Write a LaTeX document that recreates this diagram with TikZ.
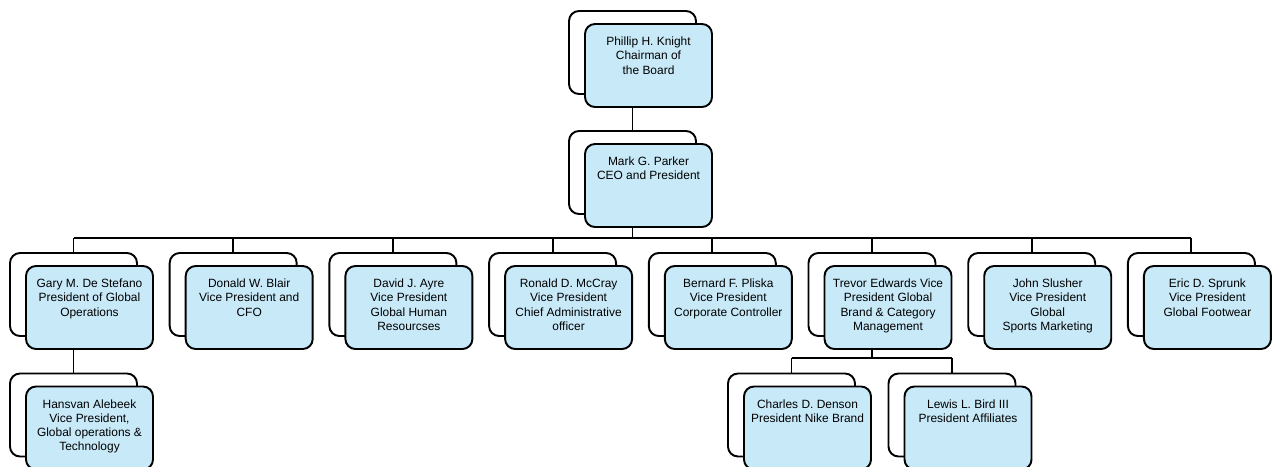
\documentclass[tikz,border=0pt]{standalone}
\usepackage{fontspec}
\setmainfont{Liberation Sans}
\usepackage{xcolor}
\usepackage{tikz}
\usetikzlibrary{positioning}
\definecolor{boxbg}{RGB}{200,233,248}

% back box, front box and its text
\newcommand{\officer}[4]{%
    \node[backbox] (#1B) at ([shift={(-0.32,0.26)}]#2,#3) {};
    \node[frontbox] (#1) at (#2,#3) {};
    \node[persontext] (#1T) at ([yshift=-0.27cm]#1.north) {#4};
}

\begin{document}
\begin{tikzpicture}[
    backbox/.style={rectangle, draw, fill=white, rounded corners=0.2cm, line width=1.1pt, minimum width=2.54cm, minimum height=1.66cm},
    frontbox/.style={backbox, fill=boxbg},
    persontext/.style={anchor=north, inner sep=0pt, align=center, font=\fontsize{6.8}{8.1}\selectfont},
    link/.style={line width=1.1pt}
]
    \clip (0,0) rectangle (25.44,-9.32);

    % Top
    \officer{knight}{12.97}{-1.31}{Phillip H. Knight\\Chairman of\\the Board}
    \officer{parker}{12.97}{-3.71}{Mark G. Parker\\CEO and President}

    % Direct reports
    \officer{gary}{1.79}{-6.15}{Gary M. De Stefano\\President of Global\\Operations}
    \officer{blair}{4.984}{-6.15}{Donald W. Blair\\Vice President and\\CFO}
    \officer{ayre}{8.178}{-6.15}{David J. Ayre\\Vice President\\Global Human\\Resourcses}
    \officer{mccray}{11.372}{-6.15}{Ronald D. McCray\\Vice President\\Chief Administrative\\officer}
    \officer{pliska}{14.566}{-6.15}{Bernard F. Pliska\\Vice President\\Corporate Controller}
    \officer{edwards}{17.76}{-6.15}{Trevor Edwards Vice\\President Global\\Brand \& Category\\Management}
    \officer{slusher}{20.954}{-6.15}{John Slusher\\Vice President\\Global\\Sports Marketing}
    \officer{sprunk}{24.148}{-6.15}{Eric D. Sprunk\\Vice President\\Global Footwear}

    % Third level
    \officer{alebeek}{1.79}{-8.56}{Hansvan Alebeek\\Vice President,\\Global operations \&\\Technology}
    \officer{denson}{16.15}{-8.56}{Charles D. Denson\\President Nike Brand}
    \officer{bird}{19.36}{-8.56}{Lewis L. Bird III\\President Affiliates}

    % Lines
    \coordinate (bus) at (0,-4.76);
    \coordinate (subbus) at (0,-7.16);
    \draw[link] (parkerB.north) -- (parkerB.north |- knight.south);
    \draw[link] (parkerB.north |- parker.south) -- (parkerB.north |- bus);
    \draw[link] (garyB.north |- bus) -- (sprunkB.north |- bus);
    \draw[link] (garyB.north |- bus) -- (garyB.north);
    \draw[link] (blairB.north |- bus) -- (blairB.north);
    \draw[link] (ayreB.north |- bus) -- (ayreB.north);
    \draw[link] (mccrayB.north |- bus) -- (mccrayB.north);
    \draw[link] (pliskaB.north |- bus) -- (pliskaB.north);
    \draw[link] (edwardsB.north |- bus) -- (edwardsB.north);
    \draw[link] (slusherB.north |- bus) -- (slusherB.north);
    \draw[link] (sprunkB.north |- bus) -- (sprunkB.north);
    \draw[link] (garyB.north |- gary.south) -- (alebeekB.north);
    \draw[link] (edwardsB.north |- edwards.south) -- (edwardsB.north |- subbus);
    \draw[link] (densonB.north |- subbus) -- (birdB.north |- subbus);
    \draw[link] (densonB.north |- subbus) -- (densonB.north);
    \draw[link] (birdB.north |- subbus) -- (birdB.north);
\end{tikzpicture}
\end{document}
